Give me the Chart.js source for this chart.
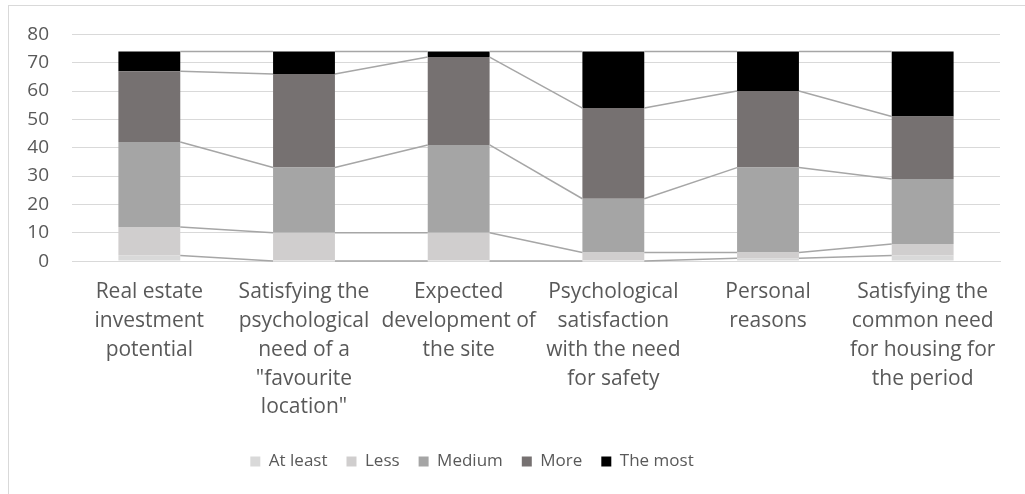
<!DOCTYPE html>
<html>
<head>
<meta charset="utf-8">
<script src="https://cdn.jsdelivr.net/npm/chart.js@4/dist/chart.umd.min.js"></script>
<style>
  html, body { margin: 0; padding: 0; background: #fff; overflow: hidden; }
  #wrap { position: absolute; left: 0; top: 0; width: 1025px; height: 494px; }
  #frame { position: absolute; left: 8px; top: 5px; width: 1100px; height: 600px; border: 1px solid #d9d9d9; box-sizing: border-box; pointer-events: none; }
</style>
</head>
<body>
<div id="wrap"><canvas id="c" width="1025" height="494"></canvas></div>
<div id="frame"></div>
<script>
const categories = [
  ["Real estate", "investment", "potential"],
  ["Satisfying the", "psychological", "need of a", "\"favourite", "location\""],
  ["Expected", "development of", "the site"],
  ["Psychological", "satisfaction", "with the need", "for safety"],
  ["Personal", "reasons"],
  ["Satisfying the", "common need", "for housing for", "the period"]
];
const seriesNames = ["At least", "Less", "Medium", "More", "The most"];
const atLeast = [2, 0, 0, 0, 1, 2];
const less    = [10, 10, 10, 3, 2, 4];
const medium  = [30, 23, 31, 19, 30, 23];
const more    = [25, 33, 31, 32, 27, 22];
const most    = [7, 8, 2, 20, 14, 23];
const yTicks  = [0, 10, 20, 30, 40, 50, 60, 70, 80];

const colors = ["#d9d9d9", "#d0cece", "#a5a5a5", "#767171", "#000000"];
const values = [atLeast, less, medium, more, most];

const seriesLines = {
  id: 'seriesLines',
  afterDatasetsDraw(chart) {
    const ctx = chart.ctx;
    ctx.save();
    ctx.strokeStyle = '#a6a6a6';
    ctx.lineWidth = 1.5;
    chart.data.datasets.forEach((ds, i) => {
      const meta = chart.getDatasetMeta(i);
      for (let j = 0; j < meta.data.length - 1; j++) {
        const a = meta.data[j], b = meta.data[j + 1];
        ctx.beginPath();
        ctx.moveTo(a.x + a.width / 2, a.y);
        ctx.lineTo(b.x - b.width / 2, b.y);
        ctx.stroke();
      }
    });
    ctx.restore();
  }
};

const legendShift = {
  id: 'legendShift',
  afterLayout(chart) {
    const l = chart.legend;
    if (l) { l.left -= 28; l.right -= 28; l.top -= 4; l.bottom -= 4; }
  }
};

new Chart(document.getElementById('c'), {
  type: 'bar',
  data: {
    labels: categories,
    datasets: seriesNames.map((n, i) => ({
      label: n,
      data: values[i],
      backgroundColor: colors[i],
      borderWidth: 0,
      barPercentage: 0.4,
      categoryPercentage: 1.0
    }))
  },
  options: {
    responsive: false,
    animation: false,
    devicePixelRatio: 1,
    layout: { padding: { left: 0, right: 25, top: 25, bottom: 10 } },
    plugins: {
      legend: {
        position: 'bottom',
        labels: {
          boxWidth: 10, boxHeight: 10, padding: 19,
          color: '#595959',
          font: { family: 'Open Sans', size: 17 }
        }
      },
      tooltip: { enabled: false }
    },
    scales: {
      x: {
        stacked: true,
        grid: { display: false, drawTicks: false },
        border: { display: true, color: '#d9d9d9', width: 1 },
        ticks: {
          color: '#595959', padding: 16, maxRotation: 0, autoSkip: false,
          font: { family: 'Open Sans', size: 21, lineHeight: 1.38 }
        }
      },
      y: {
        stacked: true,
        min: 0, max: 80,
        afterBuildTicks(axis) { axis.ticks = yTicks.map(v => ({ value: v })); },
        afterFit(axis) { axis.width = 72; },
        grid: { color: '#d9d9d9', lineWidth: 1, drawTicks: false },
        border: { display: false },
        ticks: {
          color: '#595959', padding: 23,
          font: { family: 'Open Sans', size: 19 }
        }
      }
    }
  },
  plugins: [seriesLines, legendShift]
});
</script>
</body>
</html>
